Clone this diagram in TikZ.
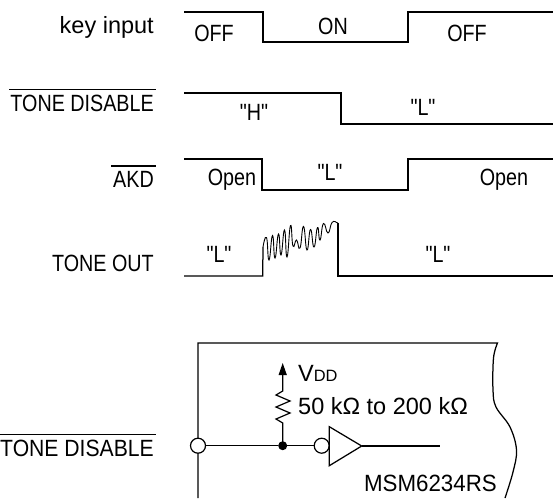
\documentclass[tikz,border=0pt]{standalone}
\usepackage{fontspec}
\setmainfont{Liberation Sans}
\newfontfamily\cnd[FakeStretch=0.84]{Liberation Sans}
\newfontfamily\cndb[FakeStretch=0.90]{Liberation Sans}
\newfontfamily\cndc[FakeStretch=0.95]{Liberation Sans}
\usetikzlibrary{arrows.meta,calc}
\begin{document}
\begin{tikzpicture}[x=1pt,y=-1pt,
  wave/.style={line width=1.25pt,line join=miter},
  lbl/.style={inner sep=0pt,text height=17pt,text depth=0pt,font=\cnd\fontsize{23.5}{24}\selectfont},
  sig/.style={inner sep=0pt,font=\cnd\fontsize{23.5}{24}\selectfont},
  ckt/.style={inner sep=0pt,font=\fontsize{23.5}{24}\selectfont},
  ovl/.style={line width=1.2pt},
  pinc/.style={circle,draw,fill=white,line width=1.2pt,minimum size=15pt,inner sep=0pt},
  dotc/.style={circle,fill=black,minimum size=9pt,inner sep=0pt},
]
\useasboundingbox (0,0) rectangle (553,498);

% ---- row labels ----
\node[lbl,font=\fontsize{23.5}{24}\selectfont,anchor=base east] (keyin) at (154,33) {key input};
\node[lbl,anchor=base east] (td) at (154,111.7) {TONE DISABLE};
\node[lbl,anchor=base east] (akd) at (154,187.7) {AKD};
\node[lbl,anchor=base east] (tout) at (154,271.7) {TONE OUT};
\draw[ovl] ([xshift=-1pt,yshift=5pt]td.north west) -- ([xshift=2pt,yshift=5pt]td.north east);
\draw[ovl] ([xshift=-2pt,yshift=4.5pt]akd.north west) -- ([xshift=2pt,yshift=4.5pt]akd.north east);

% ---- waveforms ----
\draw[wave] (184,12) -- (263,12) -- (263,42) -- (408,42) -- (408,12) -- (553,12);
\draw[wave] (184,93) -- (341,93) -- (341,124) -- (553,124);
\draw[wave] (184,159) -- (262,159) -- (262,190) -- (408,190) -- (408,159) -- (553,159);
\draw[wave] (184,276) -- (262.7,276) -- (263,247);
\draw[line width=0.9pt] (263,247)
  -- plot[smooth,tension=0.9] coordinates {(263,247) (266.5,237.5) (269,260) (272.5,235.5) (275,258) (278.5,234) (281,255) (284.5,230) (287,257) (290.5,225.5) (293,246) (296.5,240) (300,248) (303.5,226.5) (307,250) (310.5,229.5) (314,247) (317.5,227.5) (320,240) (323.5,223.5) (328,233) (332,222.5) (336.5,222.5)}
  -- (338,223);
\draw[wave] (338,223) -- (338,276) -- (553,276);

% ---- waveform texts ----
\node[sig,anchor=base] (t1) at (214,41.7) {OFF};
\node[sig,anchor=base] (t2) at (333,34) {ON};
\node[sig,anchor=base] (t3) at (467,41.7) {OFF};
\node[sig,anchor=base] (t4) at (254,120) {"H"};
\node[sig,anchor=base] (t5) at (423,115) {"L"};
\node[sig,anchor=base] (t6) at (232,185) {Open};
\node[sig,anchor=base] (t7) at (330,180) {"L"};
\node[sig,anchor=base] (t8) at (504,185) {Open};
\node[sig,anchor=base] (t9) at (219,262) {"L"};
\node[sig,anchor=base] (t10) at (438,262) {"L"};

% ---- circuit ----
\draw[wave] (198,498) -- (198,343) -- (497.5,343)
  -- plot[smooth,tension=0.6] coordinates {(497.5,343) (493.5,358) (493,390) (496,407) (510,427) (516.5,450) (513,472) (505,498)};

\node[lbl,font=\cndb\fontsize{23.5}{24}\selectfont,anchor=base east] (td2) at (154,456) {TONE DISABLE};
\draw[ovl] ([xshift=0pt,yshift=4pt]td2.north west) -- ([xshift=2pt,yshift=4pt]td2.north east);

\node[pinc] (pin) at (198,445.7) {};
\node[dotc] (jn) at (282.7,445.7) {};
\node[pinc] (bub) at (321.7,445.7) {};
\coordinate (tri1) at (329.3,426.7);
\coordinate (tri2) at (329.3,465.7);
\coordinate (bufout) at (361.7,446);
\coordinate (outend) at (440,446);
\coordinate (vddtip) at (282.7,363);

\draw[wave] (pin) -- (jn) -- (bub);
\draw[wave] (tri1) -- (bufout) -- (tri2) -- cycle;
\draw[wave] (bufout) -- (outend);
\draw[line width=1.2pt,line join=miter,-{Triangle[length=12pt,width=8pt]}] (jn.center) -- (282.7,423) -- (276,419) -- (290,413) -- (276,407) -- (290,401) -- (276,395) -- (282.7,391) -- (vddtip);

\node[ckt,anchor=base west] (vdd) at (298,381.7) {V{\fontsize{16.4}{17}\selectfont DD}};
\node[ckt,anchor=base west] (res) at (298,414) {50 kΩ to 200 kΩ};
\node[ckt,font=\cndc\fontsize{23.5}{24}\selectfont,anchor=base east] (chip) at (497,491.7) {MSM6234RS};
\end{tikzpicture}
\end{document}
